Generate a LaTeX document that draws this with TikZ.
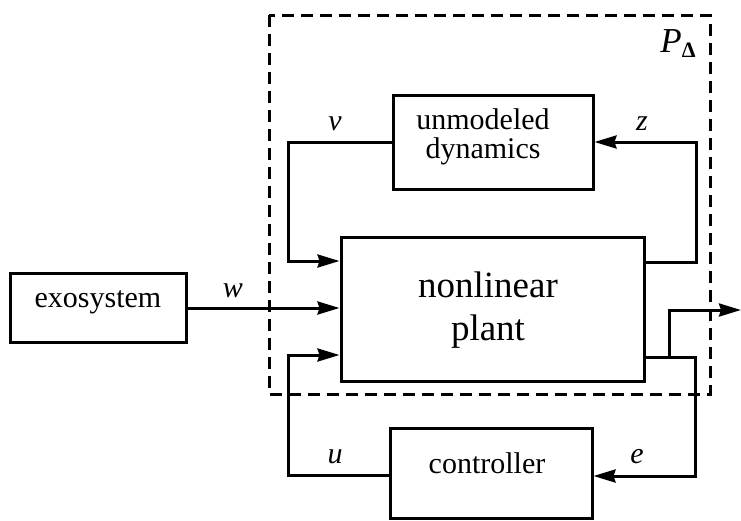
\documentclass[tikz,border=0pt]{standalone}
\usepackage{fontspec}
\setmainfont{Liberation Serif}
\usetikzlibrary{arrows.meta}
\begin{document}
\begin{tikzpicture}[x=1pt,y=-1pt,
  blk/.style={draw,line width=3pt,inner sep=0pt},
  conn/.style={line width=3pt},
  arr/.style={conn,-{Stealth[length=22pt,width=13pt,inset=2pt]}},
  lab/.style={anchor=base,inner sep=0pt,font=\fontsize{30}{30}\selectfont\itshape},
  txt/.style={anchor=base,inner sep=0pt,align=center,font=\fontsize{30}{29}\selectfont},
  bigtxt/.style={anchor=base,inner sep=0pt,align=center,font=\fontsize{37}{43}\selectfont},
  frame/.style={line width=3pt,dash pattern=on 12pt off 7pt}]
\useasboundingbox (0,0) rectangle (741,520);
% dashed P_Delta boundary
\draw[frame] (269,15) rectangle (710,394);
\node[anchor=base,inner sep=0pt] (pd) at (678,52) {\fontsize{35}{35}\selectfont\textit{P}\raisebox{-5pt}{\fontsize{22}{22}\selectfont\textbf{Δ}}};
% blocks
\node[blk,minimum width=176pt,minimum height=69pt] (exo) at (98,307.5) {};
\node[blk,minimum width=303pt,minimum height=144pt] (plant) at (492.5,309) {};
\node[blk,minimum width=200pt,minimum height=94pt] (unmod) at (493,142) {};
\node[blk,minimum width=202pt,minimum height=90pt] (ctrl) at (491,473) {};
% block texts
\node[txt] (exotxt) at (98,307) {exosystem};
\node[bigtxt] (planttxt) at (488,340) {nonlinear\\plant};
\node[txt] (unmodtxt) at (483,158) {unmodeled\\dynamics};
\node[txt] (ctrltxt) at (487,473) {controller};
% coordinates
\coordinate (vl) at (288,142);
\coordinate (zr) at (696,262);
\coordinate (er) at (695,357);
\coordinate (ob) at (669,357);
\coordinate (out) at (741,310);
\coordinate (ul) at (288,475);
% connectors
\draw[arr] (unmod.west) -- (vl) |- (plant.west |- 0,261);
\draw[arr] (plant.east |- zr) -- (zr) |- (unmod.east);
\draw[arr] (exo.east |- 0,308) -- (plant.west |- 0,308);
\draw[arr] (plant.east |- er) -- (er) |- (ctrl.east |- 0,476);
\draw[arr] (ob) |- (out);
\draw[arr] (ctrl.west |- ul) -- (ul) |- (plant.west |- 0,355);
% labels
\node[lab] (vlab) at (335,130) {v};
\node[lab] (zlab) at (642,130) {z};
\node[lab] (wlab) at (233,297) {w};
\node[lab] (ulab) at (335,463) {u};
\node[lab] (elab) at (637,463) {e};
\end{tikzpicture}
\end{document}
